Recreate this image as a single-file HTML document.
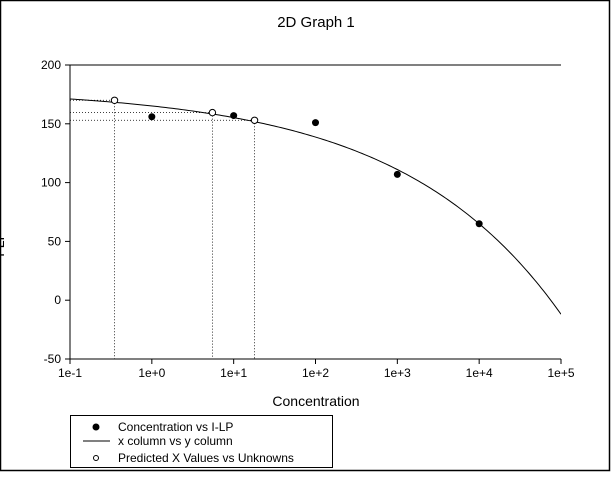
<!DOCTYPE html>
<html><head><meta charset="utf-8"><style>
body{margin:0;background:#fff;}
svg text{font-family:"Liberation Sans",Arial,sans-serif;}
</style></head><body>
<svg id="chart" width="611" height="477" viewBox="0 0 611 477" xmlns="http://www.w3.org/2000/svg">
<rect x="0.5" y="0.5" width="609" height="470" fill="#fff" stroke="#000" stroke-width="1.5"/>
<text x="316" y="27" font-size="15" text-anchor="middle">2D Graph 1</text>
<text x="316" y="406" font-size="14" text-anchor="middle">Concentration</text>
<text x="4" y="244" font-size="14" transform="rotate(-90 4 244)" text-anchor="middle">I-LP</text>
<g id="plot"></g>
<g>
<rect x="70.5" y="415.5" width="262" height="52" fill="#fff" stroke="#000"/>
<circle cx="96" cy="427" r="3.5" fill="#000"/>
<text x="118" y="431" font-size="12">Concentration vs I-LP</text>
<line x1="83" y1="441" x2="110" y2="441" stroke="#000"/>
<text x="118" y="445" font-size="12">x column vs y column</text>
<circle cx="96" cy="458" r="2.5" fill="#fff" stroke="#000"/>
<text x="118" y="462" font-size="12">Predicted X Values vs Unknowns</text>
</g>
</svg>
<script>
const dataX=[1,10,100,1000,10000];
const dataY=[156,157,151,107,65];
const predX=[0.35,5.5,18];
const predY=[170,159.5,153];
const xTicks=[0.1,1,10,100,1000,10000,100000];
const xTickLabels=["1e-1","1e+0","1e+1","1e+2","1e+3","1e+4","1e+5"];
const yTicks=[-50,0,50,100,150,200];
const fitA=180, fitB=115, fitC=0.2225, fitRef=10000;

const L=70,R=561,T=65,B=359;
const sx=v=>L+(Math.log10(v)+1)/6*(R-L);
const sy=v=>B-(v+50)/250*(B-T);
const NS="http://www.w3.org/2000/svg";
const g=document.getElementById('plot');
function mk(tag,at){const e=document.createElementNS(NS,tag);for(const k in at)e.setAttribute(k,at[k]);g.appendChild(e);return e;}
const clip=document.createElementNS(NS,'clipPath');clip.setAttribute('id','pc');
const cr=document.createElementNS(NS,'rect');cr.setAttribute('x',L);cr.setAttribute('y',T);cr.setAttribute('width',R-L);cr.setAttribute('height',B-T);clip.appendChild(cr);g.appendChild(clip);
predX.forEach((x,i)=>{
 const h=mk('line',{x1:L,y1:sy(predY[i]),x2:sx(x),y2:sy(predY[i]),stroke:'#000','stroke-width':0.8,'stroke-dasharray':'1,2'});
 
 
 const v=mk('line',{x1:sx(x),y1:sy(predY[i]),x2:sx(x),y2:B,stroke:'#000','stroke-width':0.8,'stroke-dasharray':'1,2'});
 
 
});
let d='';
for(let i=0;i<=200;i++){const lx=-1+6*i/200;const x=Math.pow(10,lx);const y=fitA-fitB*Math.pow(x/fitRef,fitC);d+=(i?'L':'M')+sx(x).toFixed(2)+','+sy(y).toFixed(2);}
const c=mk('path',{d:d,fill:'none',stroke:'#000','stroke-width':1,'clip-path':'url(#pc)'});


const ax=mk('path',{d:`M${L},${T}H${R}M${L},${T}V${B}H${R}`,fill:'none',stroke:'#000','stroke-width':1});


xTicks.forEach((v,i)=>{
 const t=mk('line',{x1:sx(v),y1:B,x2:sx(v),y2:B+5,stroke:'#000'});
 
 
 const tx=mk('text',{x:sx(v),y:B+18,'font-size':12,'text-anchor':'middle'});tx.textContent=xTickLabels[i];
 
 
});
yTicks.forEach(v=>{
 const t=mk('line',{x1:L-5,y1:sy(v),x2:L,y2:sy(v),stroke:'#000'});
 
 
 const tx=mk('text',{x:L-9,y:sy(v)+4,'font-size':12,'text-anchor':'end'});tx.textContent=v;
 
 
});
dataX.forEach((x,i)=>{
 const p=mk('circle',{cx:sx(x),cy:sy(dataY[i]),r:3.5,fill:'#000'});
 
 
});
predX.forEach((x,i)=>{
 const p=mk('circle',{cx:sx(x),cy:sy(predY[i]),r:3.2,fill:'#fff',stroke:'#000'});
 
 
});
</script>
</body></html>
